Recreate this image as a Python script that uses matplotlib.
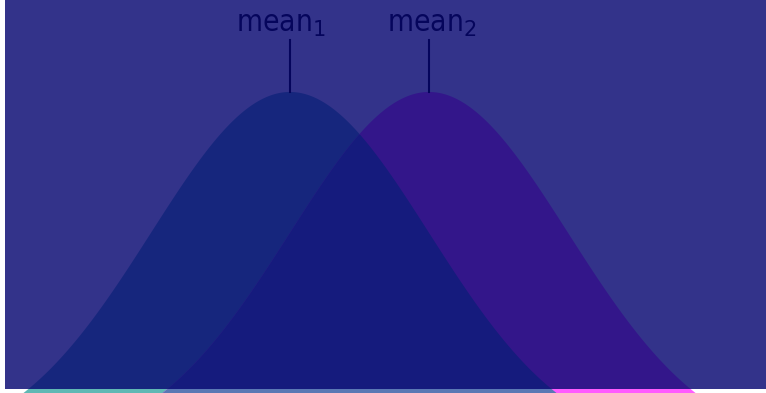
import numpy as np
import matplotlib
matplotlib.use("Agg")
import matplotlib.pyplot as plt
from matplotlib.patches import Rectangle

# two normal distributions, one unit apart
means = [0.0, 1.0]
sigmas = [1.0, 1.0]
labels = ["mean$_1$", "mean$_2$"]

fill_colors = ["#5fb8b4", "#ff5cff"]
overlap_color = "#5a78b4"

x = np.linspace(-2.2, 3.5, 800)
pdf1 = np.exp(-0.5 * ((x - means[0]) / sigmas[0]) ** 2) / (sigmas[0] * np.sqrt(2 * np.pi))
pdf2 = np.exp(-0.5 * ((x - means[1]) / sigmas[1]) ** 2) / (sigmas[1] * np.sqrt(2 * np.pi))

fig = plt.figure(figsize=(7.66, 3.93), dpi=100)
ax = fig.add_axes([0, 0, 1, 1])
ax.set_xlim(-2.086, 3.424)
ax.set_ylim(0.0635, 0.5014)
ax.axis("off")

ax.fill_between(x, 0, pdf1, color=fill_colors[0], lw=0)
ax.fill_between(x, 0, pdf2, color=fill_colors[1], lw=0)
ax.fill_between(x, 0, np.minimum(pdf1, pdf2), color=overlap_color, lw=0)

peak = 1 / np.sqrt(2 * np.pi)
offsets = [-0.065, 0.022]
for m, s, lab, off in zip(means, sigmas, labels, offsets):
    top = peak / s
    ax.plot([m, m], [top, 0.457], color="black", lw=1.5)
    ax.text(m + off, 0.466, lab, ha="center", va="baseline", fontsize=21.5,
            family="DejaVu Sans", fontstretch="condensed", color="black")

# dark shade over the whole plot
ax.add_patch(Rectangle((5 / 766, 4 / 393), 1, 1, transform=ax.transAxes,
                       facecolor=(7 / 255, 7 / 255, 113 / 255), alpha=0.824,
                       lw=0, zorder=10))

fig.savefig("out.png", dpi=100, facecolor="white")
